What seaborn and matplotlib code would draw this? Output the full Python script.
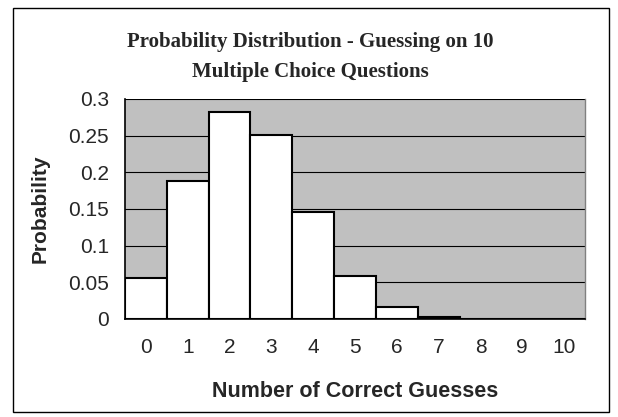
import matplotlib
matplotlib.use("Agg")
import matplotlib.pyplot as plt
import seaborn as sns
import pandas as pd
from matplotlib.patches import Rectangle

categories = ["0", "1", "2", "3", "4", "5", "6", "7", "8", "9", "10"]
probabilities = [0.0563, 0.1877, 0.2816, 0.2503, 0.1460, 0.0584, 0.0162, 0.0031, 0.0004, 0.00003, 0.000001]
y_ticks = [0, 0.05, 0.1, 0.15, 0.2, 0.25, 0.3]
y_tick_labels = ["0", "0.05", "0.1", "0.15", "0.2", "0.25", "0.3"]

sns.set_style("white")
plt.rcParams['font.family'] = ['Liberation Sans', 'DejaVu Sans']

df = pd.DataFrame({"x": categories, "p": probabilities})

fig = plt.figure(figsize=(6.18, 4.17), dpi=100)
ax = fig.add_axes([125/618, 1-319/417, (585-125)/618, (319-99)/417])
ax.set_facecolor("#C0C0C0")
ax.set_axisbelow(True)

sns.barplot(data=df, x="x", y="p", order=categories, color="white",
            edgecolor="black", linewidth=1.5, width=1.0, saturation=1, ax=ax, zorder=3)
for p in ax.patches:
    p.set_facecolor("white")

ax.set_xlim(-0.5, 10.5)
ax.set_ylim(0, 0.3)
ax.set_yticks(y_ticks)
ax.set_yticklabels(y_tick_labels, fontsize=15)
ax.yaxis.grid(True, color="black", linewidth=0.8)
ax.xaxis.grid(False)

ax.set_xticks([i - 0.5 for i in range(12)])
ax.set_xticklabels([""] * 12)
ax.set_xticks(list(range(11)), minor=True)
ax.set_xticklabels(categories, minor=True, fontsize=15)
ax.tick_params(axis="x", which="major", direction="out", length=4.5, width=1, color="black")
ax.tick_params(axis="x", which="minor", length=0, pad=14)
ax.tick_params(axis="y", direction="out", length=4.5, width=1, color="black", pad=7)

for s in ["left", "bottom"]:
    ax.spines[s].set_color("black")
    ax.spines[s].set_linewidth(1.2)
ax.spines["top"].set_visible(False)
ax.spines["right"].set_color("#808080")
ax.spines["right"].set_linewidth(1)

ax.set_xlabel("Number of Correct Guesses", fontsize=15.5, fontweight="bold", labelpad=17)
ax.set_ylabel("Probability", fontsize=15, fontweight="bold", labelpad=13)

fig.text(310/618, 1 - 57/417,
         "Probability Distribution - Guessing on 10\nMultiple Choice Questions",
         ha="center", va="center", fontsize=15, fontweight="bold",
         family=["Liberation Serif", "DejaVu Serif"], linespacing=1.6)

fig.patches.append(Rectangle((13/618, 1-412/417), (609-13)/618, (412-8)/417,
                             transform=fig.transFigure, fill=False,
                             edgecolor="black", linewidth=1))

fig.savefig("out.png", dpi=100)
